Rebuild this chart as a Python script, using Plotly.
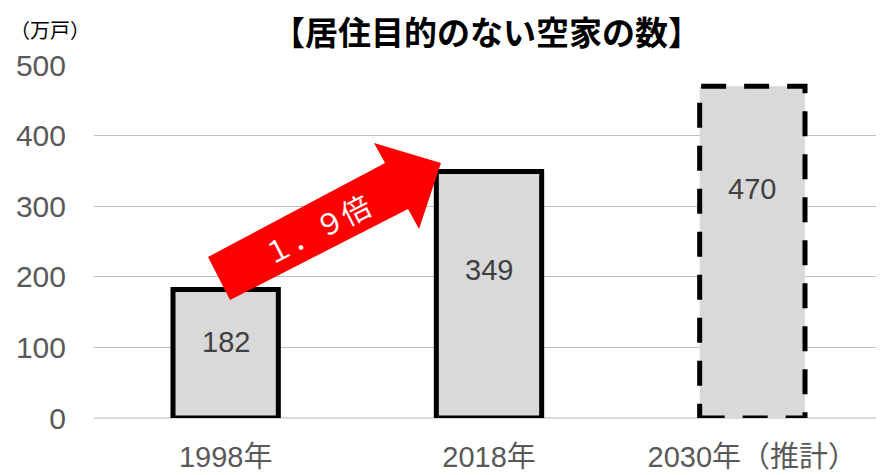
import plotly.graph_objects as go

categories = ["1998年", "2018年", "2030年（推計）"]
values = [182, 349, 470]
value_labels = ["182", "349", "470"]
title_text = "【居住目的のない空家の数】"
unit_text = "（万戸）"
arrow_text = "１．９倍"
y_ticks = [0, 100, 200, 300, 400, 500]

FONT = "Liberation Sans, Arial, Noto Sans CJK JP"
JP = "Noto Sans CJK JP, Liberation Sans"
GRAY_FILL = "#d9d9d9"
BW = 0.4
xs = list(range(len(categories)))

fig = go.Figure()
fig.add_trace(go.Bar(
    x=xs[:2], y=values[:2], width=BW,
    marker=dict(color=GRAY_FILL, line=dict(color="black", width=5)),
    hoverinfo="skip", showlegend=False,
))
fig.add_trace(go.Bar(
    x=xs[2:], y=values[2:], width=BW,
    marker=dict(color=GRAY_FILL, line=dict(width=0)),
    hoverinfo="skip", showlegend=False,
))
fig.add_shape(type="rect", xref="x", yref="y",
              x0=xs[2] - BW / 2, x1=xs[2] + BW / 2, y0=0, y1=values[2],
              line=dict(color="black", width=5, dash="25px,18px"),
              fillcolor="rgba(0,0,0,0)", layer="above")

label_frac = [0.59, 0.60, 0.69]
for x, v, t, f in zip(xs, values, value_labels, label_frac):
    fig.add_annotation(x=x, y=v * f, text=t, showarrow=False,
                       xanchor="center", yanchor="middle",
                       font=dict(family=FONT, size=29, color="#404040"))

# page-pixel -> paper conversion (plot area spans x 94..884, y 65..418 on the page)
def P(px, py):
    return (px - 94) / 790, (418 - py) / 353

pts = [(230, 300), (208, 257), (385, 163), (374, 143), (441, 163), (419, 229), (408, 209)]
path = "M " + " L ".join(f"{P(a, b)[0]:.4f},{P(a, b)[1]:.4f}" for a, b in pts) + " Z"
fig.add_shape(type="path", xref="paper", yref="paper", path=path,
              fillcolor="#ff0000", line=dict(width=0), layer="above")
ax, ay = P(316, 228)
fig.add_annotation(xref="paper", yref="paper", x=ax, y=ay, text=arrow_text,
                   showarrow=False, textangle=-27, xanchor="center", yanchor="middle",
                   font=dict(family=JP, size=29, color="white"))

tx, ty = P(486, 31)
fig.add_annotation(xref="paper", yref="paper", x=tx, y=ty,
                   text="<b>" + title_text + "</b>", showarrow=False,
                   xanchor="center", yanchor="middle",
                   font=dict(family=JP, size=33, color="black"))
ux, uy = P(8, 30)
fig.add_annotation(xref="paper", yref="paper", x=ux, y=uy,
                   xanchor="left", yanchor="middle", text=unit_text, showarrow=False,
                   font=dict(family=JP, size=20, color="black"))

fig.update_layout(
    width=876, height=467,
    margin=dict(l=86, r=0, t=57, b=57, autoexpand=False),
    plot_bgcolor="white", paper_bgcolor="white",
    xaxis=dict(range=[-0.5, 2.5], tickvals=xs, ticktext=categories,
               showgrid=False, zeroline=False, showline=False, ticks="",
               ticklabelstandoff=19,
               tickfont=dict(family=FONT, size=29, color="#595959")),
    yaxis=dict(range=[0, 500], tickvals=y_ticks, showgrid=True,
               gridcolor="#bfbfbf", gridwidth=1, zeroline=True,
               zerolinecolor="#d9d9d9", zerolinewidth=2,
               showline=False, ticks="", ticklabelstandoff=27,
               tickfont=dict(family=FONT, size=30, color="#595959")),
    font=dict(family=FONT),
)
fig.write_html("out.html")
